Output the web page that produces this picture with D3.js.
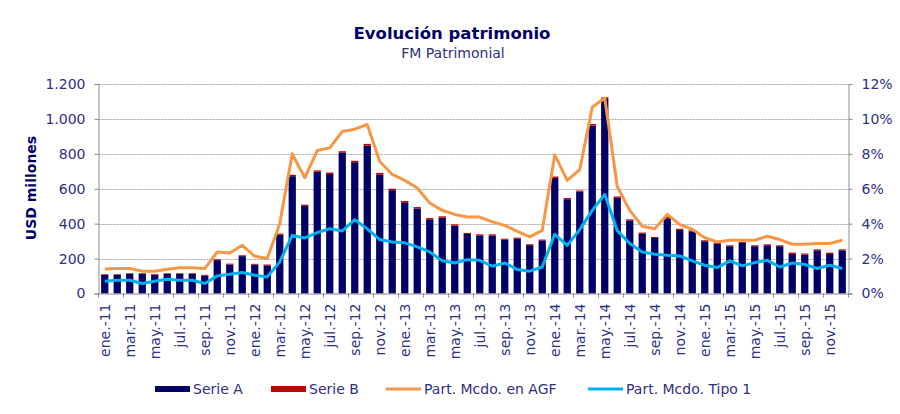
<!DOCTYPE html>
<html lang="es">
<head>
<meta charset="utf-8">
<title>Evolución patrimonio</title>
<script src="https://d3js.org/d3.v7.min.js"></script>
<style>
  body { margin: 0; background: #fff; }
  svg text { font-family: "DejaVu Sans", Verdana, sans-serif; }
</style>
</head>
<body>
<div id="chart"></div>
<script>
// categories (monthly, ene-11 .. dic-15)
var meses = [
  "ene.-11","feb.-11","mar.-11","abr.-11","may.-11","jun.-11","jul.-11","ago.-11","sep.-11","oct.-11","nov.-11","dic.-11",
  "ene.-12","feb.-12","mar.-12","abr.-12","may.-12","jun.-12","jul.-12","ago.-12","sep.-12","oct.-12","nov.-12","dic.-12",
  "ene.-13","feb.-13","mar.-13","abr.-13","may.-13","jun.-13","jul.-13","ago.-13","sep.-13","oct.-13","nov.-13","dic.-13",
  "ene.-14","feb.-14","mar.-14","abr.-14","may.-14","jun.-14","jul.-14","ago.-14","sep.-14","oct.-14","nov.-14","dic.-14",
  "ene.-15","feb.-15","mar.-15","abr.-15","may.-15","jun.-15","jul.-15","ago.-15","sep.-15","oct.-15","nov.-15","dic.-15"
];

// USD millones
var serieA = [
  106,106,112,112,108,112,112,112,103,191,166,214,
  165,161,337,672,502,697,685,806,752,847,682,592,
  522,487,425,434,389,341,333,332,308,314,277,304,
  662,540,583,962,1115,548,417,342,318,431,364,356,
  299,284,271,290,271,276,271,226,223,247,226,247
];
var serieB = [
  4,4,4,4,4,4,4,4,4,5,5,5,
  5,5,6,8,7,8,8,9,8,10,9,8,
  8,8,7,8,7,6,6,7,6,6,5,5,
  8,7,7,9,9,8,8,7,6,7,7,6,
  6,6,5,5,5,6,5,8,6,6,8,6
];

// participación de mercado (%)
var partAGF = [
  1.40,1.43,1.43,1.28,1.28,1.39,1.47,1.47,1.43,2.38,2.32,2.76,
  2.13,2.00,4.00,8.00,6.63,8.19,8.34,9.28,9.41,9.68,7.56,6.82,
  6.48,6.04,5.18,4.76,4.53,4.38,4.38,4.10,3.90,3.56,3.24,3.62,
  7.94,6.48,7.09,10.67,11.20,6.13,4.76,3.85,3.71,4.53,3.94,3.68,
  3.20,2.95,3.05,3.05,3.05,3.28,3.09,2.82,2.82,2.86,2.86,3.05
];
var partTipo1 = [
  0.70,0.76,0.76,0.57,0.70,0.82,0.76,0.76,0.57,1.01,1.10,1.20,
  1.05,0.95,1.81,3.33,3.18,3.49,3.71,3.58,4.23,3.70,3.09,2.95,
  2.90,2.67,2.38,1.87,1.75,1.94,1.90,1.56,1.75,1.37,1.28,1.52,
  3.39,2.76,3.66,4.76,5.68,3.60,2.86,2.38,2.25,2.19,2.15,1.87,
  1.62,1.49,1.87,1.58,1.77,1.90,1.52,1.75,1.66,1.43,1.62,1.43
];

var ticksUSD = [0, 200, 400, 600, 800, 1000, 1200];
var ticksPct = [0, 2, 4, 6, 8, 10, 12];

var colA = "#000066", colB = "#c00000", colAGF = "#f79646", colT1 = "#00b0f0";
var txtCol = "#2f2f86";

var W = 900, H = 414;
var plot = {left: 98.5, right: 848.5, top: 84, bottom: 293.5};

var svg = d3.select("#chart").append("svg")
  .attr("width", W).attr("height", H);
svg.append("rect").attr("width", W).attr("height", H).attr("fill", "#fff");

var x = d3.scaleBand()
  .domain(meses)
  .range([plot.left, plot.right])
  .paddingInner(0.42)
  .paddingOuter(0.21);

var y = d3.scaleLinear().domain([0, 1200]).range([plot.bottom, plot.top]);
var y2 = d3.scaleLinear().domain([0, 12]).range([plot.bottom, plot.top]);

// gridlines
svg.append("g")
  .selectAll("line")
  .data(ticksUSD.filter(function(d) { return d > 0; }))
  .enter().append("line")
    .attr("x1", plot.left).attr("x2", plot.right)
    .attr("y1", function(d) { return Math.round(y(d)) + 0.5; })
    .attr("y2", function(d) { return Math.round(y(d)) + 0.5; })
    .attr("stroke", "#a6a6a6")
    .attr("stroke-dasharray", "2,1");

// titles
svg.append("text")
  .attr("x", 452).attr("y", 39)
  .attr("text-anchor", "middle")
  .attr("font-size", 16.5).attr("font-weight", "bold")
  .attr("fill", colA)
  .text("Evolución patrimonio");
svg.append("text")
  .attr("x", 453).attr("y", 58)
  .attr("text-anchor", "middle")
  .attr("font-size", 14)
  .attr("fill", txtCol)
  .text("FM Patrimonial");

svg.append("text")
  .attr("transform", "translate(36,188) rotate(-90)")
  .attr("text-anchor", "middle")
  .attr("font-size", 14).attr("font-weight", "bold")
  .attr("fill", colA)
  .text("USD millones");

// bars (stacked)
var bars = svg.append("g");
bars.selectAll("rect.a")
  .data(meses)
  .enter().append("rect")
    .attr("class", "a")
    .attr("x", function(d) { return x(d); })
    .attr("width", x.bandwidth())
    .attr("y", function(d, i) { return y(serieA[i]); })
    .attr("height", function(d, i) { return y(0) - y(serieA[i]); })
    .attr("fill", colA);
bars.selectAll("rect.b")
  .data(meses)
  .enter().append("rect")
    .attr("class", "b")
    .attr("x", function(d) { return x(d); })
    .attr("width", x.bandwidth())
    .attr("y", function(d, i) { return y(serieA[i] + serieB[i]); })
    .attr("height", function(d, i) { return y(serieA[i]) - y(serieA[i] + serieB[i]); })
    .attr("fill", colB);

// axes
var fmtES = d3.formatLocale({decimal: ",", thousands: ".", grouping: [3], currency: ["$", ""]}).format(",d");

var axL = svg.append("g")
  .attr("transform", "translate(" + plot.left + ",0)")
  .call(d3.axisLeft(y).tickValues(ticksUSD).tickSize(4).tickPadding(9).tickFormat(fmtES));
var axR = svg.append("g")
  .attr("transform", "translate(" + plot.right + ",0)")
  .call(d3.axisRight(y2).tickValues(ticksPct).tickSize(4).tickPadding(9).tickFormat(function(d) { return d + "%"; }));
[axL, axR].forEach(function(g) {
  g.select(".domain").attr("stroke", "#8c8c8c");
  g.selectAll(".tick line").attr("stroke", "#8c8c8c");
  g.selectAll("text").attr("fill", txtCol).attr("font-size", 14).attr("font-family", null);
});

var axB = svg.append("g")
  .attr("transform", "translate(0," + plot.bottom + ")")
  .call(d3.axisBottom(x).tickValues(meses.filter(function(d, i) { return i % 2 === 0; })).tickSize(0));
axB.select(".domain").attr("stroke", "#8c8c8c");
axB.selectAll("text")
  .attr("transform", "rotate(-90)")
  .attr("x", -10).attr("y", 0).attr("dy", "0.35em")
  .style("text-anchor", "end")
  .attr("fill", txtCol).attr("font-size", 14).attr("font-family", null);

// category boundary ticks every two months
axB.selectAll("line.sep")
  .data(meses.filter(function(d, i) { return i % 2 === 0; }).concat(["__end"]))
  .enter().append("line")
    .attr("class", "sep")
    .attr("x1", function(d) { return d === "__end" ? plot.right : x(d) + x.bandwidth() / 2 - x.step() / 2; })
    .attr("x2", function(d) { return d === "__end" ? plot.right : x(d) + x.bandwidth() / 2 - x.step() / 2; })
    .attr("y1", 0).attr("y2", 4)
    .attr("stroke", "#8c8c8c");

// lines on secondary axis
var line = function(vals) {
  return d3.line()
    .x(function(d, i) { return x(meses[i]) + x.bandwidth() / 2; })
    .y(function(d) { return y2(d); })(vals);
};
svg.append("path")
  .attr("d", line(partAGF))
  .attr("fill", "none").attr("stroke", colAGF).attr("stroke-width", 3)
  .attr("stroke-linejoin", "round");
svg.append("path")
  .attr("d", line(partTipo1))
  .attr("fill", "none").attr("stroke", colT1).attr("stroke-width", 3)
  .attr("stroke-linejoin", "round");

// legend
var legend = [
  {name: "Serie A", color: colA, type: "rect", x: 155},
  {name: "Serie B", color: colB, type: "rect", x: 271},
  {name: "Part. Mcdo. en AGF", color: colAGF, type: "line", x: 386},
  {name: "Part. Mcdo. Tipo 1", color: colT1, type: "line", x: 588}
];
var lg = svg.append("g").selectAll("g").data(legend).enter().append("g")
  .attr("transform", function(d) { return "translate(" + d.x + ",389)"; });
lg.filter(function(d) { return d.type === "rect"; })
  .append("rect").attr("x", 0).attr("y", -3).attr("width", 35).attr("height", 6)
  .attr("fill", function(d) { return d.color; });
lg.filter(function(d) { return d.type === "line"; })
  .append("line").attr("x1", 0).attr("x2", 35).attr("y1", 0).attr("y2", 0)
  .attr("stroke", function(d) { return d.color; }).attr("stroke-width", 3);
lg.append("text")
  .attr("x", 38).attr("y", 0).attr("dy", "0.35em")
  .attr("font-size", 14).attr("fill", txtCol)
  .text(function(d) { return d.name; });
</script>
</body>
</html>
